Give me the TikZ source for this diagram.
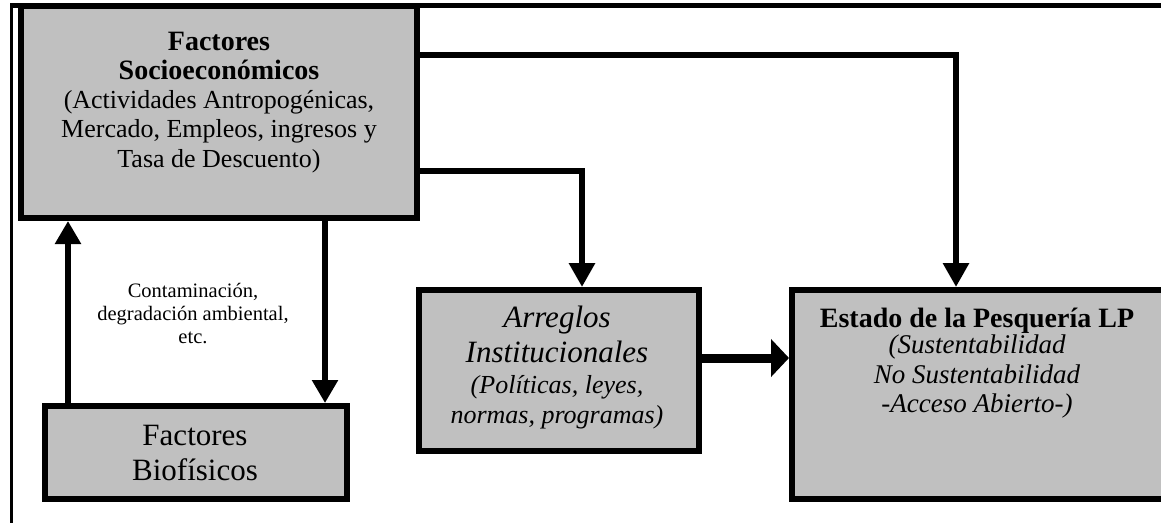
\documentclass[tikz,border=0pt]{standalone}
\usepackage{fontspec}
\setmainfont{Liberation Serif}
\usetikzlibrary{arrows.meta}
\definecolor{boxgrey}{RGB}{192,192,192}
\tikzset{
  box/.style={draw=black, fill=boxgrey, line width=6pt, inner sep=0pt, line join=miter},
  txt/.style={inner sep=0pt, align=center, text=black},
  conn/.style={line width=6.5pt, -{Triangle[length=24pt,width=25pt]}},
  thinconn/.style={line width=5.5pt, -{Triangle[length=23pt,width=25pt]}},
  bigconn/.style={line width=9pt, -{Triangle[length=18pt,width=37pt]}},
}
\begin{document}
\begin{tikzpicture}[x=1pt,y=-1pt]
\useasboundingbox (0,0) rectangle (1161,522);
% frame
\draw[line width=5pt] (10,5.5) -- (1175,5.5);
\draw[line width=3pt] (11.5,3) -- (11.5,530);
% boxes
\node[box, minimum width=396pt, minimum height=212pt] (socio) at (219,112) {};
\node[box, minimum width=302pt, minimum height=93pt] (bio) at (196,452.5) {};
\node[box, minimum width=280pt, minimum height=161pt] (arreglos) at (559,370.5) {};
\node[box, minimum width=374pt, minimum height=209pt] (estado) at (979,394.5) {};
% texts
\node[txt, anchor=north, font=\fontsize{26}{29.3}\selectfont] (sociotext) at (219,31.5)
  {{\fontsize{28}{29}\selectfont\bfseries Factores}\\
   {\fontsize{28}{29}\selectfont\bfseries Socioeconómicos}\\
   (Actividades Antropogénicas,\\
   Mercado, Empleos, ingresos y\\
   Tasa de Descuento)};
\node[txt, anchor=north, font=\fontsize{31}{35}\selectfont] (biotext) at (195,424.5)
  {Factores\\ Biofísicos};
\node[txt, anchor=north, font=\fontsize{26}{30}\selectfont\itshape] (arreglostext) at (557,306)
  {{\fontsize{31}{35}\selectfont Arreglos}\\[5pt]
   {\fontsize{31}{35}\selectfont Institucionales}\\[1pt]
   (Políticas, leyes,\\
   normas, programas)};
\node[txt, anchor=north, font=\fontsize{27}{29.5}\selectfont\itshape] (estadotext) at (977,307.5)
  {{\fontsize{28}{29}\selectfont\bfseries\upshape Estado de la Pesquería LP}\\[-3pt]
   (Sustentabilidad\\
   No Sustentabilidad\\
   -Acceso Abierto-)};
\node[txt, anchor=north, font=\fontsize{20.5}{23}\selectfont] (label) at (193,283)
  {Contaminación,\\ degradación ambiental,\\ etc.};
% connectors
\coordinate (t1) at (956,55);
\coordinate (t2) at (582,171);
\coordinate (t3) at (325,0);
\coordinate (t4) at (68,0);
\coordinate (t5) at (0,358);
\draw[conn] (socio.east |- t1) -| (estado.north -| t1);
\draw[conn] (socio.east |- t2) -| (arreglos.north -| t2);
\draw[thinconn] (socio.south -| t3) -- (bio.north -| t3);
\draw[thinconn] (bio.north -| t4) -- (socio.south -| t4);
\draw[bigconn] (arreglos.east |- t5) -- (estado.west |- t5);
\end{tikzpicture}
\end{document}
